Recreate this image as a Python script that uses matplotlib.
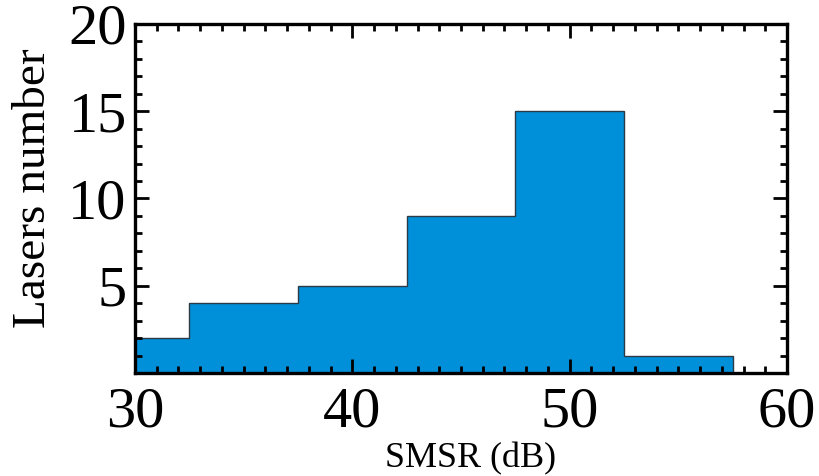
import matplotlib
matplotlib.use("Agg")
import matplotlib.pyplot as plt
from matplotlib.ticker import MultipleLocator
import numpy as np

# SMSR histogram data
bin_edges = [30, 32.5, 37.5, 42.5, 47.5, 52.5, 57.5]
lasers_count = [2, 4, 5, 9, 15, 1]
x_ticks = [30, 40, 50, 60]
y_ticks = [5, 10, 15, 20]

plt.rcParams['font.family'] = ['Liberation Serif', 'DejaVu Serif']

fig = plt.figure(figsize=(8.2, 4.76), dpi=100)
ax = fig.add_axes([0.1646, 0.2164, 0.7952, 0.7332])

ax.stairs(lasers_count, bin_edges, fill=True, facecolor='#0090da',
          edgecolor='#2b3a44', linewidth=1.0)

ax.set_xlim(30, 60)
ax.set_ylim(0, 20)
ax.set_xticks(x_ticks)
ax.set_yticks(y_ticks)
ax.xaxis.set_minor_locator(MultipleLocator(1))
ax.yaxis.set_minor_locator(MultipleLocator(1))

ax.tick_params(which='both', direction='in', top=True, right=True, width=2.0)
ax.tick_params(which='major', length=10)
ax.tick_params(which='minor', length=5)
ax.tick_params(axis='x', which='major', labelsize=42, pad=10)
ax.tick_params(axis='y', which='major', labelsize=42, pad=6)

for sp in ax.spines.values():
    sp.set_linewidth(2.4)

ax.set_xlabel("SMSR (dB)", fontsize=26)
ax.set_ylabel("Lasers number", fontsize=34)
ax.xaxis.set_label_coords(0.514, -0.197)
ax.yaxis.set_label_coords(-0.123, 0.53)

fig.savefig("out.png", dpi=100)
